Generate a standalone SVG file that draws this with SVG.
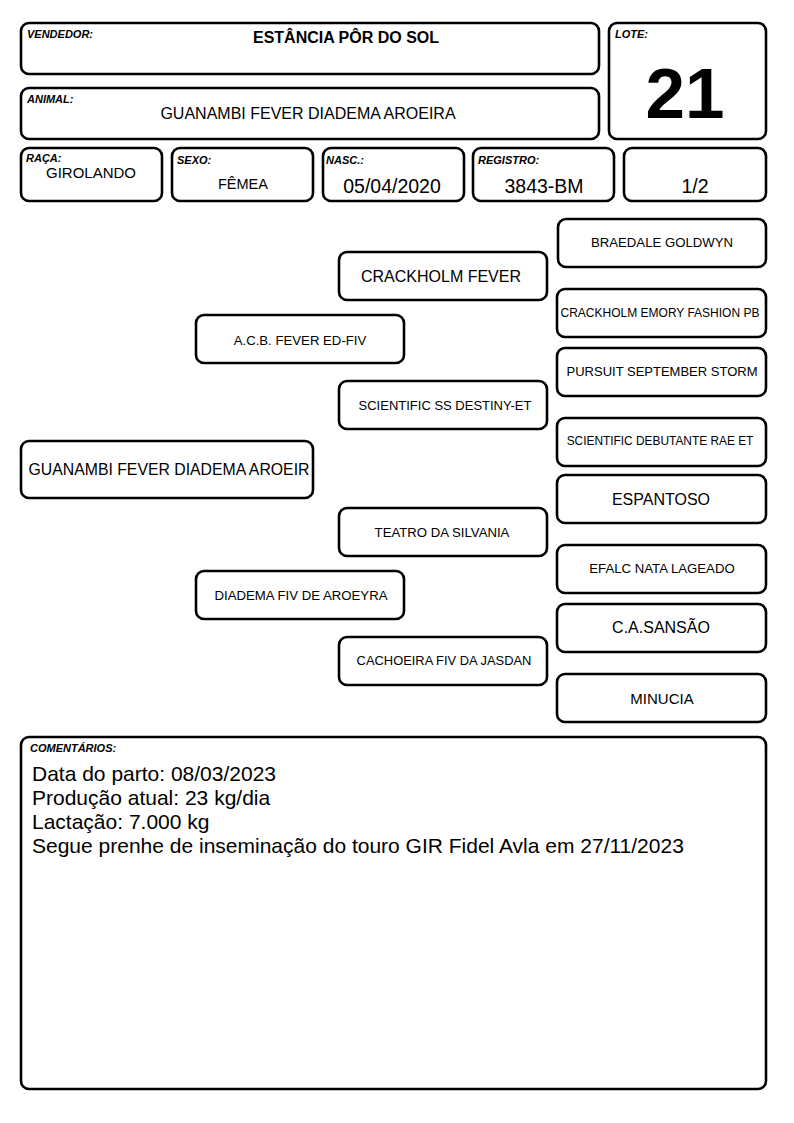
<svg xmlns="http://www.w3.org/2000/svg" width="794" height="1123" viewBox="0 0 794 1123">
<style>
rect{fill:#fff;stroke:#000;stroke-width:2.6}
text{font-family:"Liberation Sans",Arial,sans-serif;fill:#000}
.lb{font-size:11px;font-weight:bold;font-style:italic}
.c{text-anchor:middle}
.s{font-size:13.2px}
.m{font-size:16px}
.v{font-size:19.5px}
.t{font-size:21px}
</style>
<rect x="0" y="0" width="794" height="1123" style="fill:#fff;stroke:none"/>
<g id="vendedor"><rect x="21" y="23" width="578" height="51" rx="8"/><text class="lb" x="27" y="38">VENDEDOR:</text><text class="c" x="346" y="43" style="font-size:16px;font-weight:bold">ESTÂNCIA PÔR DO SOL</text></g>
<g id="animal"><rect x="21" y="88" width="578" height="51" rx="8"/><text class="lb" x="27" y="103">ANIMAL:</text><text class="c" x="308" y="119" style="font-size:16px">GUANAMBI FEVER DIADEMA AROEIRA</text></g>
<g id="lote"><rect x="609" y="23" width="157" height="116" rx="8"/><text class="lb" x="615" y="38">LOTE:</text><text class="c" x="685" y="118" style="font-size:71px;font-weight:bold">21</text></g>
<g id="raca"><rect x="21" y="148" width="141" height="53" rx="8"/><text class="lb" x="26" y="162">RAÇA:</text><text class="c" x="91" y="178" style="font-size:15px">GIROLANDO</text></g>
<g id="sexo"><rect x="172" y="148" width="141" height="53" rx="8"/><text class="lb" x="177" y="164">SEXO:</text><text class="c" x="243" y="189" style="font-size:14.5px">FÊMEA</text></g>
<g id="nasc"><rect x="323" y="148" width="141" height="53" rx="8"/><text class="lb" x="326" y="164">NASC.:</text><text class="c v" x="392" y="193">05/04/2020</text></g>
<g id="registro"><rect x="473" y="148" width="141" height="53" rx="8"/><text class="lb" x="478" y="164">REGISTRO:</text><text class="c v" x="544" y="193">3843-BM</text></g>
<g id="fracao"><rect x="624" y="148" width="142" height="53" rx="8"/><text class="c v" x="695" y="193">1/2</text></g>
<g id="connectors"></g>
<g id="p-braedale"><rect x="558" y="219" width="208" height="48" rx="8"/><text class="c s" x="662" y="247">BRAEDALE GOLDWYN</text></g>
<g id="p-crackholm-fever"><rect x="339" y="252" width="208" height="48" rx="8"/><text class="c m" x="441" y="282">CRACKHOLM FEVER</text></g>
<g id="p-crackholm-emory"><rect x="557" y="289" width="209" height="48" rx="8"/><text class="c" x="660" y="317" style="font-size:12px">CRACKHOLM EMORY FASHION PB</text></g>
<g id="p-acb"><rect x="196" y="315" width="208" height="48" rx="8"/><text class="c s" x="300" y="345">A.C.B. FEVER ED-FIV</text></g>
<g id="p-pursuit"><rect x="557" y="348" width="209" height="48" rx="8"/><text class="c" x="662" y="376" style="font-size:13px">PURSUIT SEPTEMBER STORM</text></g>
<g id="p-scientific-ss"><rect x="339" y="381" width="208" height="48" rx="8"/><text class="c" x="445" y="410" style="font-size:13px">SCIENTIFIC SS DESTINY-ET</text></g>
<g id="p-scientific-deb"><rect x="557" y="418" width="209" height="48" rx="8"/><text class="c" x="660" y="445" style="font-size:11.9px">SCIENTIFIC DEBUTANTE RAE ET</text></g>
<g id="p-animal"><rect x="21" y="441" width="292" height="57" rx="8"/><text class="c" x="169" y="475" style="font-size:15.8px">GUANAMBI FEVER DIADEMA AROEIR</text></g>
<g id="p-espantoso"><rect x="557" y="475" width="209" height="48" rx="8"/><text class="c m" x="661" y="505">ESPANTOSO</text></g>
<g id="p-teatro"><rect x="339" y="508" width="208" height="48" rx="8"/><text class="c s" x="442" y="537">TEATRO DA SILVANIA</text></g>
<g id="p-efalc"><rect x="557" y="545" width="209" height="48" rx="8"/><text class="c s" x="662" y="573">EFALC NATA LAGEADO</text></g>
<g id="p-diadema"><rect x="196" y="571" width="208" height="48" rx="8"/><text class="c s" x="301" y="600">DIADEMA FIV DE AROEYRA</text></g>
<g id="p-sansao"><rect x="557" y="604" width="209" height="48" rx="8"/><text class="c m" x="661" y="633">C.A.SANSÃO</text></g>
<g id="p-cachoeira"><rect x="339" y="637" width="208" height="48" rx="8"/><text class="c" x="444" y="665" style="font-size:12.9px">CACHOEIRA FIV DA JASDAN</text></g>
<g id="p-minucia"><rect x="557" y="674" width="209" height="48" rx="8"/><text class="c" x="662" y="704" style="font-size:15px">MINUCIA</text></g>
<g id="comentarios"><rect x="21" y="737" width="745" height="352" rx="8"/><text class="lb" x="30" y="752">COMENTÁRIOS:</text>
<text class="t" x="32" y="781">Data do parto: 08/03/2023</text>
<text class="t" x="32" y="805">Produção atual: 23 kg/dia</text>
<text class="t" x="32" y="829">Lactação: 7.000 kg</text>
<text class="t" x="32" y="853">Segue prenhe de inseminação do touro GIR Fidel Avla em 27/11/2023</text></g>
</svg>
